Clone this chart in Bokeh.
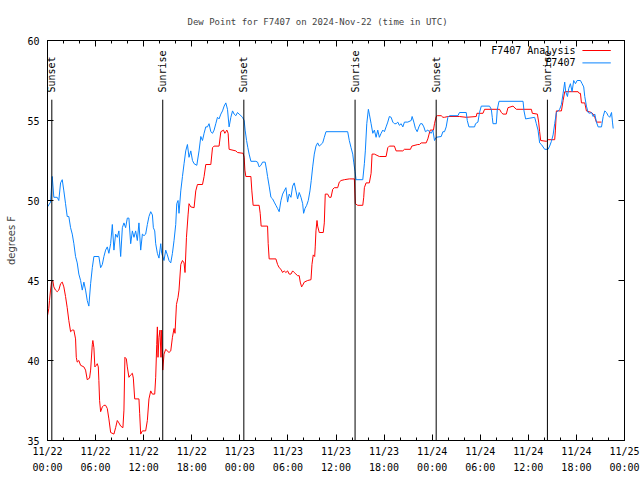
import math
from bokeh.plotting import figure
from bokeh.models import Range1d, FixedTicker, LinearAxis
from bokeh.embed import file_html
from bokeh.resources import INLINE
from bokeh.core.properties import value

# ---------------- data ----------------
TITLE = "Dew Point for F7407 on 2024-Nov-22 (time in UTC)"
Y_LABEL = "degrees F"

# hours since 2024-11-22 00:00 UTC
x_tick_hours = [0, 6, 12, 18, 24, 30, 36, 42, 48, 54, 60, 66, 72]
x_tick_labels = ["11/22\n00:00", "11/22\n06:00", "11/22\n12:00", "11/22\n18:00",
                 "11/23\n00:00", "11/23\n06:00", "11/23\n12:00", "11/23\n18:00",
                 "11/24\n00:00", "11/24\n06:00", "11/24\n12:00", "11/24\n18:00",
                 "11/25\n00:00"]
x_minor_hours = list(range(0, 73, 2))
y_ticks = [35, 40, 45, 50, 55, 60]

sun_hours = [0.54, 14.38, 24.5, 38.38, 48.5, 62.38]
sun_names = ["Sunset", "Sunrise", "Sunset", "Sunrise", "Sunset", "Sunrise"]

series_names = ["F7407 Analysis", "F7407"]
series_colors = ["#ff0000", "#0a84ff"]

analysis_hours = [0.00, 0.16, 0.25, 0.38, 0.50, 0.66, 0.79, 1.00, 1.21, 1.41, 1.63, 1.84, 2.04, 2.25, 2.46,
                  2.66, 2.88, 3.09, 3.29, 3.50, 3.59, 3.71, 3.91, 4.13, 4.54, 4.75, 4.96, 5.25, 5.38, 5.59,
                  5.66, 5.79, 5.91, 6.09, 6.21, 6.34, 6.41, 6.50, 6.63, 6.84, 7.04, 7.25, 7.46, 7.66, 7.88,
                  8.29, 8.50, 8.71, 8.91, 9.13, 9.41, 9.54, 9.66, 9.84, 9.96, 10.16, 10.38, 10.59, 10.71,
                  10.88, 11.41, 11.50, 11.63, 11.84, 12.25, 12.46, 12.66, 12.88, 13.09, 13.38, 13.50, 13.63,
                  13.71, 13.79, 13.91, 14.04, 14.16, 14.25, 14.38, 14.54, 14.75, 15.16, 15.38, 15.59, 15.79,
                  15.91, 16.09, 16.29, 16.41, 16.63, 16.84, 17.04, 17.16, 17.34, 17.54, 17.66, 17.88, 18.29,
                  18.50, 18.71, 19.34, 19.54, 19.75, 20.38, 20.59, 20.79, 21.41, 21.63, 21.96, 22.13, 22.25,
                  22.38, 22.54, 22.66, 23.50, 23.71, 24.41, 24.54, 24.63, 24.75, 25.38, 25.50, 25.66, 26.41,
                  26.54, 26.66, 27.46, 27.54, 27.66, 28.50, 28.71, 28.91, 29.13, 29.34, 29.54, 29.75, 29.96,
                  30.16, 30.38, 30.59, 30.79, 31.00, 31.21, 31.41, 31.54, 31.71, 31.84, 32.04, 32.46, 32.88,
                  33.00, 33.16, 33.34, 33.41, 33.50, 33.63, 33.71, 33.91, 34.41, 34.54, 34.66, 34.96, 35.16,
                  35.38, 35.59, 35.79, 36.21, 36.41, 36.63, 37.04, 37.66, 38.29, 38.41, 38.71, 39.34, 39.46,
                  39.54, 39.75, 40.16, 40.38, 40.50, 40.79, 41.41, 42.25, 42.46, 42.66, 43.29, 43.50, 44.34,
                  44.54, 45.29, 45.46, 46.21, 46.41, 46.63, 47.25, 47.46, 47.59, 47.75, 48.16, 48.29, 48.50,
                  48.63, 49.13, 49.34, 49.54, 49.96, 51.41, 52.25, 53.50, 53.59, 54.34, 54.54, 56.41, 56.63,
                  56.84, 57.25, 57.46, 58.09, 58.50, 60.38, 60.50, 61.13, 61.29, 61.41, 61.54, 62.25, 62.46,
                  63.29, 63.38, 63.50, 64.13, 64.34, 64.54, 66.21, 66.34, 66.50, 66.63, 67.04, 67.25, 67.88,
                  68.09, 68.29, 68.50, 69.13]
analysis_dew = [42.8, 43.25, 43.75, 44.4, 44.9, 45.0, 44.6, 44.4, 44.3, 44.4, 44.8, 44.9, 44.6, 44.0, 43.3,
                42.5, 41.8, 41.9, 41.9, 41.35, 40.2, 39.9, 40.0, 39.7, 39.6, 39.4, 38.8, 38.9, 39.4, 41.0,
                41.25, 40.8, 39.6, 39.7, 39.8, 39.6, 38.75, 37.5, 36.8, 37.1, 37.2, 37.2, 37.0, 36.35, 35.5,
                35.4, 35.8, 36.25, 36.1, 35.9, 35.8, 36.9, 40.2, 40.1, 39.6, 38.95, 39.1, 39.2, 38.9,
                37.6, 37.6, 36.7, 35.4, 35.6, 35.6, 36.25, 37.6, 38.1, 37.9, 37.9, 38.95, 41.0,
                42.1, 40.2, 41.45, 41.9, 40.2, 41.9, 39.4, 40.4, 40.7, 40.5, 40.6, 41.45, 42.0,
                41.7, 43.5, 43.95, 44.4, 46.0, 46.25, 46.1, 45.5, 47.7, 49.1, 49.8, 49.6, 49.55,
                50.6, 51.0, 51.0, 51.5, 52.25, 52.25, 53.3, 53.4, 53.4, 54.3, 54.4, 54.2, 54.3,
                54.4, 54.2, 53.2, 53.1, 53.0, 52.95, 52.7, 51.9, 51.5, 51.5, 50.6, 49.7, 49.7,
                49.2, 48.4, 48.4, 47.3, 46.35, 46.35, 46.0, 45.8, 45.7, 45.5, 45.6, 45.5, 45.6,
                45.4, 45.4, 45.6, 45.5, 45.4, 45.3, 45.3, 44.9, 44.6, 44.7, 44.9, 45.0, 45.05,
                46.0, 46.6, 46.5, 47.1, 48.1, 48.75, 48.4, 48.0, 48.0, 48.6, 50.4, 50.4, 50.2,
                50.2, 50.7, 50.8, 50.8, 51.15, 51.25, 51.3, 51.35, 51.35, 49.8, 49.7, 49.7, 50.2,
                50.8, 51.1, 51.1, 51.7, 52.9, 52.9, 52.75, 52.75, 53.3, 53.4, 53.4, 53.1, 53.1,
                53.2, 53.2, 53.4, 53.5, 53.5, 53.6, 53.6, 53.85, 54.1, 54.4, 54.4, 54.8, 55.25,
                55.3, 55.3, 55.2, 55.2, 55.25, 55.25, 55.2, 55.25, 55.45, 55.45, 55.7, 55.7, 55.5,
                55.4, 55.4, 55.8, 55.9, 55.7, 55.7, 55.45, 55.4, 54.9, 54.3, 53.75, 53.7, 53.8,
                53.8, 54.4, 55.6, 55.6, 56.25, 56.8, 56.8, 56.7, 56.7, 56.1, 56.1, 55.6, 55.5,
                55.4, 55.2, 54.9, 54.9]

station_hours = [0.00, 0.38, 0.59, 0.79, 1.21, 1.41, 1.63, 1.84, 2.04, 2.25, 2.46, 2.66, 2.88, 3.09, 3.29,
                 3.50, 3.71, 3.91, 4.13, 4.34, 4.54, 4.75, 4.96, 5.16, 5.38, 5.59, 5.79, 6.41, 6.63, 6.84,
                 7.04, 7.25, 7.46, 7.66, 7.88, 8.09, 8.29, 8.50, 8.71, 8.91, 9.13, 9.34, 9.54, 9.75, 9.96,
                 10.16, 10.38, 10.59, 10.79, 11.00, 11.21, 11.41, 11.63, 11.84, 12.04, 12.25, 12.46, 12.66,
                 12.88, 13.09, 13.21, 13.38, 13.50, 13.71, 13.91, 14.13, 14.25, 14.38, 14.54, 14.75, 14.96,
                 15.16, 15.38, 15.59, 15.79, 16.00, 16.13, 16.29, 16.41, 16.63, 16.84, 17.04, 17.25, 17.46,
                 17.66, 17.88, 18.09, 18.29, 18.63, 18.91, 19.13, 19.34, 19.54, 19.75, 19.96, 20.16, 20.38,
                 20.59, 20.79, 21.00, 21.21, 21.41, 21.63, 21.84, 22.04, 22.25, 22.46, 22.66, 22.88, 23.09,
                 23.29, 23.50, 23.71, 23.91, 24.13, 24.34, 24.54, 24.66, 24.84, 25.00, 25.16, 25.38, 26.00,
                 26.21, 26.41, 26.63, 26.84, 27.16, 27.34, 27.46, 27.66, 27.88, 28.09, 28.29, 28.50, 28.71,
                 28.91, 29.13, 29.34, 29.54, 29.75, 29.96, 30.16, 30.38, 30.59, 30.79, 31.00, 31.21, 31.41,
                 31.63, 31.84, 31.96, 32.13, 32.34, 32.54, 32.75, 32.91, 33.09, 33.29, 33.50, 33.71, 33.91,
                 34.13, 34.34, 34.54, 34.75, 37.46, 37.66, 37.88, 38.09, 38.21, 38.38, 38.50, 39.34, 39.54,
                 39.66, 39.84, 40.04, 40.16, 40.38, 40.59, 40.79, 41.00, 41.21, 41.41, 41.63, 41.84, 42.04,
                 42.25, 42.46, 42.66, 42.88, 43.09, 43.29, 43.50, 43.71, 43.91, 44.13, 44.34, 44.54, 44.96,
                 45.38, 45.50, 45.71, 45.91, 46.13, 46.34, 46.54, 46.75, 46.96, 47.16, 47.46, 47.66, 47.88,
                 48.09, 48.29, 48.50, 49.13, 49.34, 49.54, 49.75, 49.96, 50.16, 51.21, 51.41, 52.25, 52.38,
                 52.59, 53.29, 53.41, 53.71, 53.91, 54.13, 55.16, 55.38, 55.50, 55.59, 56.00, 56.13, 56.34,
                 59.34, 59.46, 59.66, 60.79, 61.00, 61.21, 61.41, 61.63, 62.04, 62.46, 62.66, 62.88, 63.09,
                 63.29, 63.50, 63.91, 64.13, 64.34, 64.54, 64.66, 64.88, 65.04, 65.25, 65.46, 65.66, 65.88,
                 66.09, 66.50, 66.71, 66.91, 67.04, 67.25, 67.46, 67.66, 67.88, 68.09, 68.29, 68.50, 68.71,
                 69.13, 69.34, 69.54, 69.75, 69.96, 70.16, 70.38, 70.50, 70.59]
station_dew = [49.6, 49.9, 51.5, 50.2, 50.2, 50.0, 51.1, 51.3, 50.6, 49.8, 49.0, 49.0, 48.3, 47.9, 47.3,
               46.5, 46.1, 45.4, 45.0, 44.4, 44.9, 44.4, 43.75, 43.4, 44.8, 45.8, 46.5, 46.5, 45.8, 46.0,
               46.5, 46.9, 47.1, 46.7, 47.3, 48.5, 46.9, 47.9, 47.7, 48.1, 46.5, 48.3, 48.6, 48.3, 48.9,
               48.9, 47.3, 48.1, 47.7, 48.1, 47.5, 48.6, 46.9, 47.9, 47.8, 47.9, 48.5, 49.0,
               49.3, 49.1, 48.3, 48.1, 47.3, 46.7, 46.4, 47.3, 46.7, 46.5, 46.25, 46.9, 46.6,
               46.25, 46.1, 46.7, 47.5, 48.5, 49.8, 50.0, 49.2, 50.6, 51.5, 52.3, 53.1, 53.5,
               52.7, 53.1, 52.5, 52.3, 52.2, 53.1, 54.0, 53.75, 54.2, 54.6, 54.6, 54.8, 54.3,
               54.2, 54.4, 54.8, 55.2, 55.1, 55.4, 55.6, 55.9, 56.1, 55.7, 54.6, 55.2, 55.6,
               55.4, 55.3, 55.5, 55.4, 55.3, 55.2, 55.0, 54.4, 53.75, 53.3, 52.9, 52.45, 52.45,
               52.4, 52.1, 52.2, 52.4, 52.4, 51.9, 51.5, 50.9, 50.2, 50.1, 49.9, 49.7, 49.5,
               49.3, 50.0, 50.4, 50.6, 50.8, 49.9, 50.4, 50.2, 50.9, 51.1, 50.6, 50.1, 50.5,
               50.2, 49.8, 49.2, 49.5, 49.7, 50.0, 50.6, 51.25, 52.1, 52.9, 53.4, 53.6, 53.4,
               53.5, 53.6, 53.95, 54.3, 54.3, 53.75, 53.3, 52.9, 52.4, 51.8, 51.3, 51.3, 52.3,
               53.1, 54.8, 55.7, 55.4, 54.8, 54.2, 54.4, 53.95, 54.4, 53.95, 54.2, 54.4, 54.3,
               54.6, 54.9, 55.25, 55.2, 54.9, 54.8, 54.8, 54.9, 54.7, 54.8, 54.6, 54.9, 54.9,
               55.0, 55.25, 54.9, 54.5, 54.3, 54.6, 54.8, 54.8, 54.6, 54.3, 54.4, 54.3, 54.2,
               54.4, 53.75, 53.95, 54.0, 54.3, 54.3, 54.6, 55.2, 55.3, 55.3, 55.5, 55.5, 55.0,
               54.6, 54.6, 54.8, 54.9, 55.5, 55.9, 55.9, 55.7, 55.2, 54.8, 54.8, 55.7, 56.2,
               56.2, 55.6, 55.1, 55.2, 54.8, 54.4, 53.6, 53.5, 53.2, 53.2, 53.4, 53.7, 54.1,
               54.8, 55.5, 55.7, 56.0, 56.7, 57.4, 56.8, 56.5, 57.0, 57.3, 56.8, 57.5, 57.3,
               57.5, 57.5, 57.3, 57.1, 56.5, 55.9, 55.5, 55.45, 55.5, 55.25, 55.4, 54.9, 54.6,
               54.6, 55.25, 55.6, 55.5, 55.3, 55.2, 55.5, 54.9, 54.5]

# ---------------- style / layout ----------------
MONO = "DejaVu Sans Mono"
SANS = "DejaVu Sans"
FS = "10px"
SUN_LINE_TOP = 56.3
SUN_TEXT_BASE = 56.75
LEG_TEXT_X = 65.88
LEG_LINE_X0, LEG_LINE_X1 = 66.75, 70.29
LEG_Y = [59.375, 58.6]

p = figure(width=640, height=480, output_backend="svg", toolbar_location=None,
           x_range=Range1d(0, 72), y_range=Range1d(35, 60),
           min_border_left=47, min_border_right=16, min_border_top=40, min_border_bottom=40,
           background_fill_color="white", border_fill_color="white")
p.outline_line_color = "black"
p.outline_line_width = 1
p.xgrid.visible = False
p.ygrid.visible = False

p.title.text = TITLE
p.title.align = "left"
p.title.offset = 140
p.title.standoff = 28
p.title.text_font = MONO
p.title.text_font_size = "9px"
p.title.text_font_style = "normal"

xt = FixedTicker(ticks=x_tick_hours, minor_ticks=x_minor_hours)
yt = FixedTicker(ticks=y_ticks, minor_ticks=[])


def style_axis(ax):
    ax.axis_line_color = "black"
    ax.major_tick_line_color = "black"
    ax.minor_tick_line_color = "black"
    ax.major_tick_in = 6
    ax.major_tick_out = 0
    ax.minor_tick_in = 3
    ax.minor_tick_out = 0
    ax.major_label_text_font = MONO
    ax.major_label_text_font_size = FS
    ax.major_label_text_color = "black"


xa = p.xaxis[0]
xa.ticker = xt
xa.major_label_overrides = dict(zip(x_tick_hours, x_tick_labels))
style_axis(xa)
xa.major_label_standoff = 5
xa.major_label_text_line_height = 1.5

ya = p.yaxis[0]
ya.ticker = yt
style_axis(ya)
ya.major_label_standoff = 8
ya.axis_label = Y_LABEL
ya.axis_label_text_font = SANS
ya.axis_label_text_font_size = FS
ya.axis_label_text_font_style = "normal"
ya.axis_label_standoff = 7

# mirrored tick marks on top and right (no labels)
top = LinearAxis(ticker=xt, major_label_overrides={t: "" for t in x_tick_hours})
style_axis(top)
top.major_label_standoff = 0
p.add_layout(top, "above")
right = LinearAxis(ticker=yt, major_label_overrides={t: "" for t in y_ticks})
style_axis(right)
right.major_label_standoff = 0
p.add_layout(right, "right")

# data lines
p.line(analysis_hours, analysis_dew, line_color=series_colors[0], line_width=1)
p.line(station_hours, station_dew, line_color=series_colors[1], line_width=1)

# sunrise / sunset markers
p.segment(x0=sun_hours, y0=[p.y_range.start] * len(sun_hours), x1=sun_hours,
          y1=[SUN_LINE_TOP] * len(sun_hours), line_color="black", line_width=1)
p.text(x=sun_hours, y=[SUN_TEXT_BASE] * len(sun_hours), text=sun_names, angle=math.pi / 2,
       text_align="left", text_baseline="middle", text_font=value(MONO),
       text_font_size=FS, text_color="black")

# legend (gnuplot style: text then sample line)
p.text(x=[LEG_TEXT_X] * 2, y=LEG_Y, text=series_names, text_align="right",
       text_baseline="middle", text_font=value(MONO), text_font_size=FS, text_color="black")
p.segment(x0=[LEG_LINE_X0] * 2, y0=LEG_Y, x1=[LEG_LINE_X1] * 2, y1=LEG_Y,
          line_color=series_colors, line_width=1)

open("out.html", "w").write(file_html(p, INLINE))
